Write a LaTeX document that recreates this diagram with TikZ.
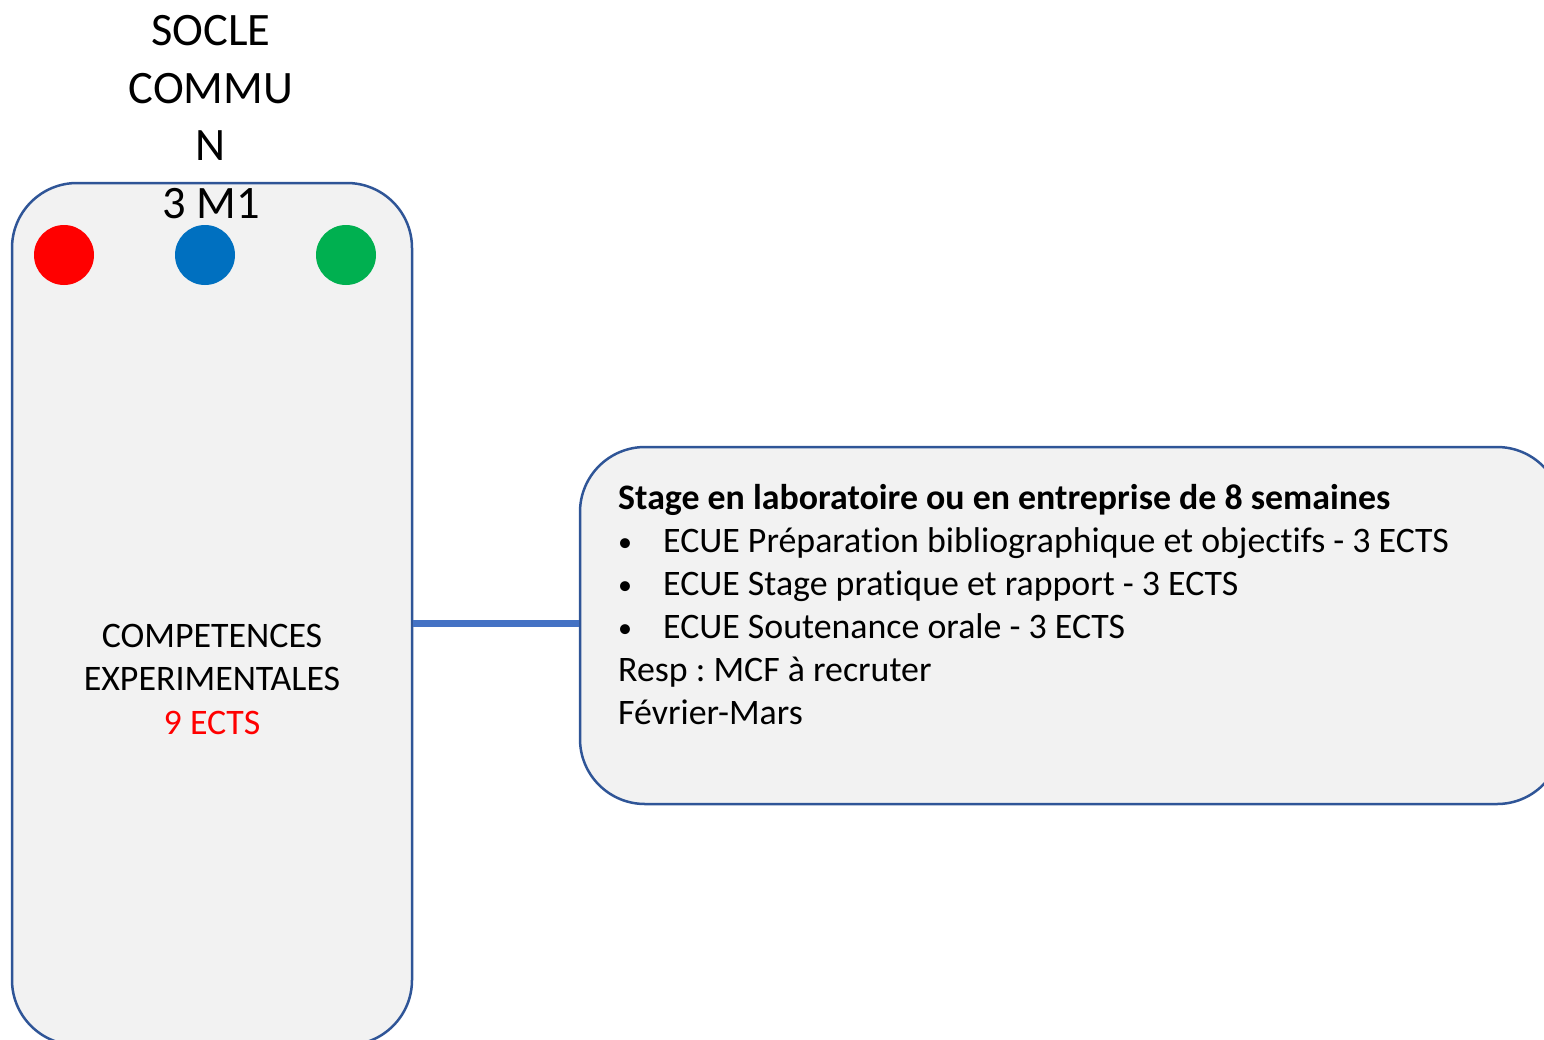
\documentclass[tikz,border=0pt]{standalone}
\usepackage{fontspec}
\setmainfont{Carlito}[Ligatures={NoCommon,NoRare,NoContextual}]
\frenchspacing
\definecolor{boxfill}{HTML}{F2F2F2}
\definecolor{boxline}{HTML}{2F5597}
\definecolor{conn}{HTML}{4472C4}
\definecolor{dotred}{HTML}{FF0000}
\definecolor{dotblue}{HTML}{0070C0}
\definecolor{dotgreen}{HTML}{00B050}
\newcommand{\mybul}{\makebox[45pt][l]{\raisebox{1pt}{\fontsize{28}{30}\selectfont •}}}
\tikzset{
  panel/.style={draw=boxline, fill=boxfill, line width=2.5pt, rounded corners=65pt, inner sep=0pt},
  dot/.style={circle, minimum size=60pt, inner sep=0pt},
  bigtxt/.style={font=\fontsize{46.5}{57}\selectfont, inner sep=0pt, anchor=base},
  midtxt/.style={font=\fontsize{35.9}{43}\selectfont, inner sep=0pt, anchor=base},
  linetxt/.style={font=\fontsize{35.85}{43}\selectfont, inner sep=0pt, anchor=base west},
  link/.style={draw=conn, line width=7pt}
}
\begin{document}
\begin{tikzpicture}[x=1pt,y=-1pt]
\useasboundingbox (0,0) rectangle (1544,1039);
\clip (0,0) rectangle (1544,1039);
\node[panel, minimum width=400pt, minimum height=862pt] (left) at (212,614) {};
\node[panel, minimum width=982pt, minimum height=357pt] (right) at (1071,625.5) {};
\coordinate (cy) at (0,623);
\draw[link] (left.east |- cy) -- (right.west |- cy);
\node[dot, fill=dotred] (d1) at (64,255) {};
\node[dot, fill=dotblue] (d2) at (205,255) {};
\node[dot, fill=dotgreen] (d3) at (346,255) {};
\node[bigtxt] (s1) at (211,45.5) {SOCLE};
\node[bigtxt] (s2) at (211,103) {COMMU};
\node[bigtxt] (s3) at (211,160.5) {N};
\node[bigtxt] (s4) at (211,218) {3 M1};
\node[midtxt] (c1) at (212,647) {COMPETENCES};
\node[midtxt] (c2) at (212,690.5) {EXPERIMENTALES};
\node[midtxt, text=dotred] (c3) at (212,734) {9 ECTS};
\node[linetxt] (t1) at (618,509) {\textbf{Stage en laboratoire ou en entreprise de 8 semaines}};
\node[linetxt] (t2) at (618,552) {\mybul ECUE Préparation bibliographique et objectifs - 3 ECTS};
\node[linetxt] (t3) at (618,595) {\mybul ECUE Stage pratique et rapport - 3 ECTS};
\node[linetxt] (t4) at (618,638) {\mybul ECUE Soutenance orale - 3 ECTS};
\node[linetxt] (t5) at (618,681) {Resp : MCF à recruter};
\node[linetxt] (t6) at (618,724) {Février-Mars};
\end{tikzpicture}
\end{document}
